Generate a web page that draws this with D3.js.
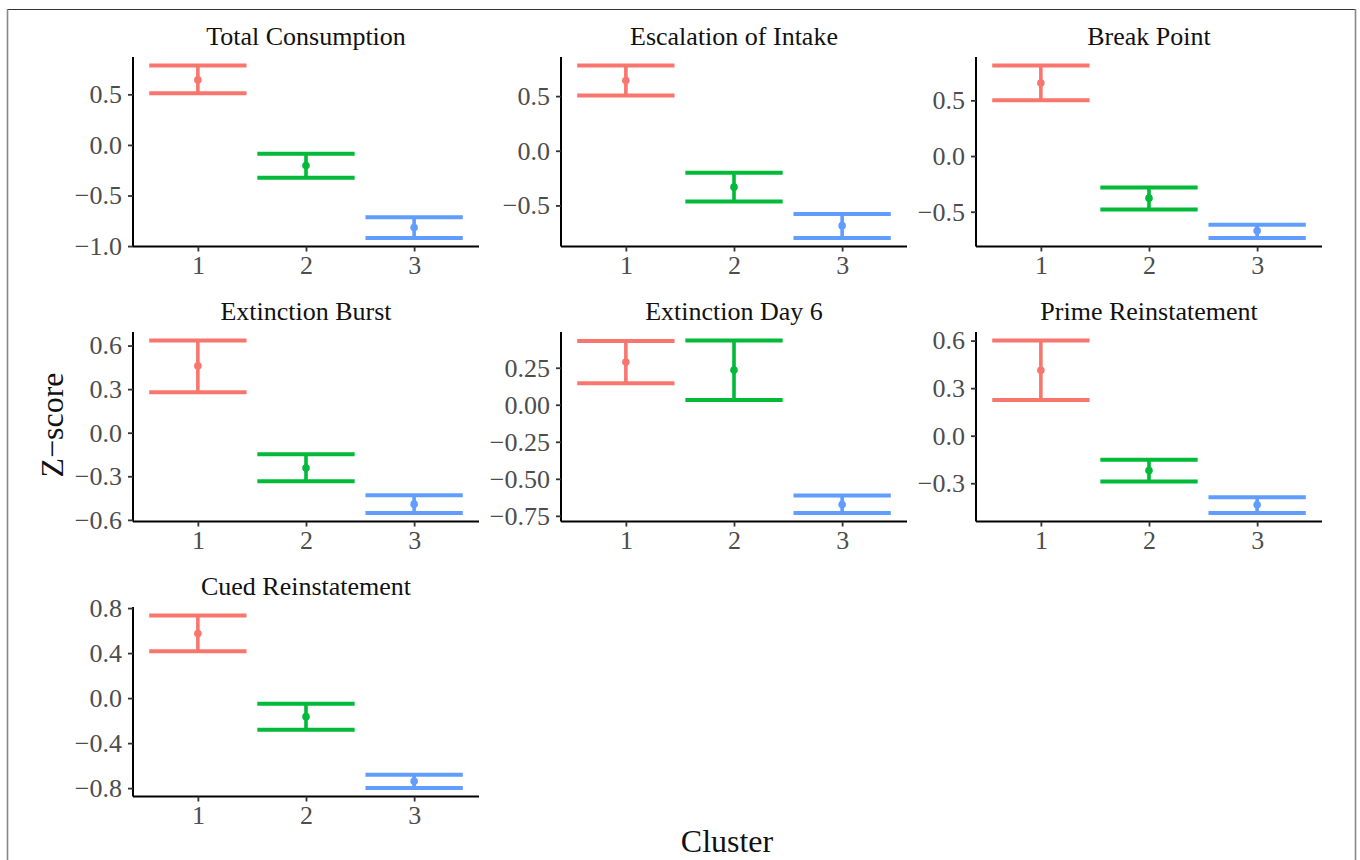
<!DOCTYPE html>
<html>
<head>
<meta charset="utf-8">
<script src="https://cdn.jsdelivr.net/npm/d3@7"></script>
<style>
  body { margin: 0; background: #fff; }
  svg { display: block; font-family: "Liberation Serif", "Times New Roman", serif; }
</style>
</head>
<body>
<svg id="chart"></svg>
<script>
// facet titles, in facet order
var panels = ["Total Consumption", "Escalation of Intake", "Break Point",
              "Extinction Burst", "Extinction Day 6", "Prime Reinstatement",
              "Cued Reinstatement"];
var clusters = ["1", "2", "3"];

// mean z-score per cluster, one list per facet
var means = [
  [0.643, -0.203, -0.817],
  [0.642, -0.333, -0.685],
  [0.655, -0.378, -0.672],
  [0.460, -0.243, -0.492],
  [0.288, 0.234, -0.674],
  [0.413, -0.220, -0.436],
  [0.574, -0.165, -0.739]
];
var upper = [
  [0.784, -0.088, -0.716],
  [0.779, -0.200, -0.579],
  [0.812, -0.282, -0.616],
  [0.634, -0.149, -0.431],
  [0.431, 0.433, -0.613],
  [0.600, -0.151, -0.388],
  [0.733, -0.050, -0.682]
];
var lower = [
  [0.510, -0.324, -0.919],
  [0.506, -0.464, -0.797],
  [0.500, -0.479, -0.735],
  [0.279, -0.334, -0.552],
  [0.146, 0.032, -0.730],
  [0.226, -0.289, -0.487],
  [0.417, -0.282, -0.798]
];
// y tick values per facet
var yTicks = [
  [-1.0, -0.5, 0.0, 0.5],
  [-0.5, 0.0, 0.5],
  [-0.5, 0.0, 0.5],
  [-0.6, -0.3, 0.0, 0.3, 0.6],
  [-0.75, -0.5, -0.25, 0.0, 0.25],
  [-0.3, 0.0, 0.3, 0.6],
  [-0.8, -0.4, 0.0, 0.4, 0.8]
];
var tickDigits = [1, 1, 1, 1, 2, 1, 1];
var colors = ["#F8766D", "#00BA38", "#619CFF"];

var W = 1360, H = 860;
var colLeft = [133, 561, 976];
var rowTop = [57, 332, 607];
var pw = 346, ph = 189.5;

var svg = d3.select("#chart").attr("width", W).attr("height", H);

// outer frame (top, left, right edges)
svg.append("line").attr("x1", 7).attr("x2", 1356).attr("y1", 9.5).attr("y2", 9.5)
  .attr("stroke", "#333").attr("stroke-width", 1.2);
svg.append("line").attr("x1", 7.5).attr("x2", 7.5).attr("y1", 9).attr("y2", H)
  .attr("stroke", "#888").attr("stroke-width", 1.6);
svg.append("line").attr("x1", 1355.5).attr("x2", 1355.5).attr("y1", 9).attr("y2", H)
  .attr("stroke", "#888").attr("stroke-width", 1.6);

function minus(s) { return s.replace("-", "\u2212"); }

panels.forEach(function(name, i) {
  var left = colLeft[i % 3], top = rowTop[Math.floor(i / 3)];
  var g = svg.append("g").attr("transform", "translate(" + left + "," + top + ")");

  var lo = d3.min(lower[i]), hi = d3.max(upper[i]);
  var pad = (hi - lo) * 0.05;
  var y = d3.scaleLinear().domain([lo - pad, hi + pad]).range([ph, 0]);
  var x = d3.scalePoint().domain(clusters).range([0, pw]).padding(0.6);
  var step = x.step();

  // error bars
  clusters.forEach(function(c, j) {
    var cx = x(c);
    var col = colors[j];
    g.append("line").attr("x1", cx).attr("x2", cx)
      .attr("y1", y(upper[i][j])).attr("y2", y(lower[i][j]))
      .attr("stroke", col).attr("stroke-width", 3.6);
    [upper[i][j], lower[i][j]].forEach(function(v) {
      g.append("line").attr("x1", cx - step * 0.45).attr("x2", cx + step * 0.45)
        .attr("y1", y(v)).attr("y2", y(v))
        .attr("stroke", col).attr("stroke-width", 4);
    });
    g.append("circle").attr("cx", cx).attr("cy", y(means[i][j])).attr("r", 3.8)
      .attr("fill", col);
  });

  var fmt = d3.format("." + tickDigits[i] + "f");
  var ya = g.append("g")
    .call(d3.axisLeft(y).tickValues(yTicks[i]).tickSize(5).tickPadding(6)
      .tickFormat(function(d) { return minus(fmt(d)); }));
  var xa = g.append("g").attr("transform", "translate(0," + ph + ")")
    .call(d3.axisBottom(x).tickSize(5).tickPadding(4));

  [ya, xa].forEach(function(a) {
    a.select(".domain").attr("stroke", "#000").attr("stroke-width", 2);
    a.selectAll(".tick line").attr("stroke", "#333").attr("stroke-width", 1.8);
    a.selectAll(".tick text").attr("fill", "#4D4D4D")
      .style("font-size", "26px").style("font-family", "Liberation Serif, Times New Roman, serif");
  });
  ya.select(".domain").attr("d", "M0," + ph + "V0");
  xa.select(".domain").attr("d", "M0,0H" + pw);

  g.append("text").attr("x", pw / 2).attr("y", -12)
    .attr("text-anchor", "middle").attr("fill", "#111")
    .style("font-size", "26px").text(name);
});

// shared axis titles
svg.append("text").attr("transform", "translate(63,425) rotate(-90)")
  .attr("text-anchor", "middle").attr("fill", "#111")
  .style("font-size", "32px").text("Z\u2212score");
svg.append("text").attr("x", 727).attr("y", 852)
  .attr("text-anchor", "middle").attr("fill", "#111")
  .style("font-size", "32px").text("Cluster");
</script>
</body>
</html>
